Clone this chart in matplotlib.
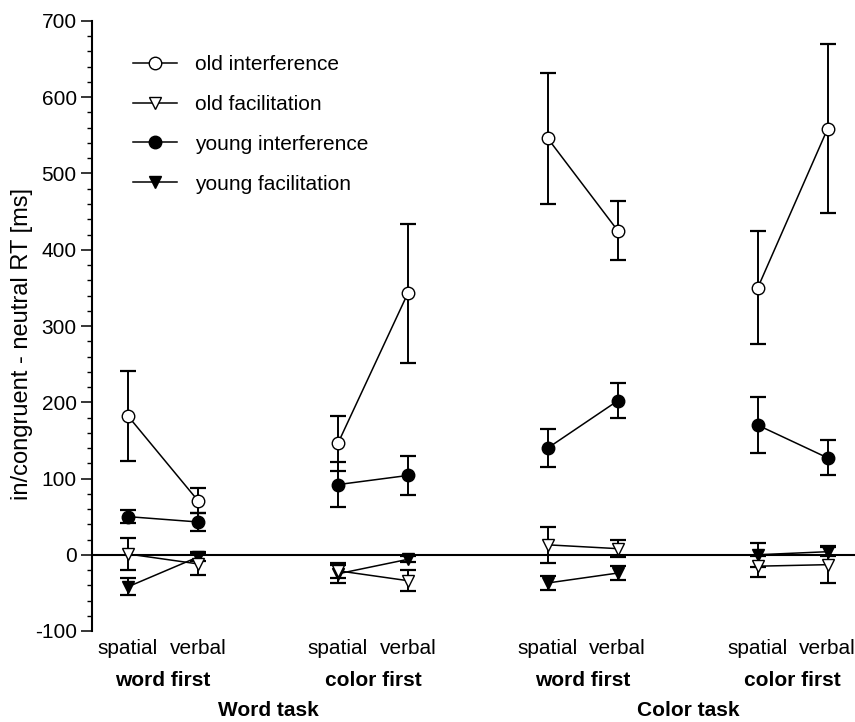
import matplotlib
matplotlib.use("Agg")
import matplotlib.pyplot as plt
import matplotlib.transforms as mtransforms
from matplotlib.lines import Line2D
from matplotlib.ticker import MultipleLocator

plt.rcParams['font.family'] = ['Liberation Sans', 'DejaVu Sans']
plt.rcParams['axes.unicode_minus'] = False

# condition layout: two tasks x two orders x (spatial, verbal)
x_pos = [0, 1, 3, 4, 6, 7, 9, 10]
cond_labels = ['spatial', 'verbal'] * 4
order_labels = ['word first', 'color first', 'word first', 'color first']
order_centers = [0.5, 3.5, 6.5, 9.5]
task_labels = ['Word task', 'Color task']
task_centers = [2.0, 8.0]

# mean difference RT [ms] and error bars
old_interf = [182, 71, 146, 343, 546, 425, 350, 559]
old_interf_err = [59, 16, 36, 91, 86, 39, 74, 111]
old_facil = [1, -12, -21, -34, 13, 8, -15, -13]
old_facil_err = [21, 15, 10, 14, 24, 11, 14, 24]
young_interf = [50, 43, 92, 104, 140, 202, 170, 127]
young_interf_err = [9, 12, 30, 25, 25, 23, 37, 23]
young_facil = [-42, -3, -25, -6, -37, -24, 0, 4]
young_facil_err = [11, 5, 12, 4, 9, 9, 16, 6]

series = [
    ('young facilitation', young_facil, young_facil_err, 'v', 'black'),
    ('young interference', young_interf, young_interf_err, 'o', 'black'),
    ('old facilitation', old_facil, old_facil_err, 'v', 'white'),
    ('old interference', old_interf, old_interf_err, 'o', 'white'),
]

W, H = 855, 722
fs = 15
fig = plt.figure(figsize=(W / 100, H / 100), dpi=100)
ax = fig.add_axes([92 / W, (H - 631) / H, 1 - 92 / W, 610 / H])

ax.axhline(0, color='black', lw=1.5, zorder=1)

for k, (name, vals, errs, mk, fc) in enumerate(series):
    z = 3 + k
    for g in range(4):
        xs = x_pos[2 * g:2 * g + 2]
        ys = vals[2 * g:2 * g + 2]
        es = errs[2 * g:2 * g + 2]
        ax.errorbar(xs, ys, yerr=es, fmt='none', ecolor='black', elinewidth=1.4,
                    capsize=5.5, capthick=1.6, zorder=z)
        ax.plot(xs, ys, color='black', lw=1.1, marker=mk, markersize=9,
                markerfacecolor=fc, markeredgecolor='black', markeredgewidth=1.0,
                zorder=z + 0.5)

ax.set_xlim(-0.514, 10.39)
ax.set_ylim(-100, 700)
ax.yaxis.set_major_locator(MultipleLocator(100))
ax.yaxis.set_minor_locator(MultipleLocator(20))
ax.tick_params(axis='y', which='major', length=8, width=1.1, labelsize=fs, pad=3)
ax.tick_params(axis='y', which='minor', length=3.4, width=1.0)
ax.set_xticks([])
for side in ('top', 'right', 'bottom'):
    ax.spines[side].set_visible(False)
ax.spines['left'].set_linewidth(1.5)

fig.text(22 / W, 1 - 344 / H, 'in/congruent - neutral RT [ms]', rotation=90,
         ha='center', va='center', fontsize=17)

# category labels under the axis
trans = mtransforms.blended_transform_factory(ax.transData, fig.transFigure)
for xp, lab in zip(x_pos, cond_labels):
    ax.text(xp, 1 - 648 / H, lab, transform=trans, ha='center', va='center', fontsize=fs)
for xp, lab in zip(order_centers, order_labels):
    ax.text(xp, 1 - 681 / H, lab, transform=trans, ha='center', va='center',
            fontsize=fs, fontweight='bold')
for xp, lab in zip(task_centers, task_labels):
    ax.text(xp, 1 - 711 / H, lab, transform=trans, ha='center', va='center',
            fontsize=fs, fontweight='bold')

handles = [
    Line2D([], [], color='black', lw=1.1, marker='o', markersize=9,
           markerfacecolor='white', markeredgecolor='black', label='old interference'),
    Line2D([], [], color='black', lw=1.1, marker='v', markersize=9,
           markerfacecolor='white', markeredgecolor='black', label='old facilitation'),
    Line2D([], [], color='black', lw=1.1, marker='o', markersize=9,
           markerfacecolor='black', markeredgecolor='black', label='young interference'),
    Line2D([], [], color='black', lw=1.1, marker='v', markersize=9,
           markerfacecolor='black', markeredgecolor='black', label='young facilitation'),
]
ax.legend(handles=handles, loc='upper left', bbox_to_anchor=(133 / W, 1 - 55 / H),
          bbox_transform=fig.transFigure, frameon=False, borderpad=0, borderaxespad=0,
          fontsize=fs, handlelength=2.1, handletextpad=0.87, labelspacing=1.0)

fig.savefig('out.png', dpi=100)
